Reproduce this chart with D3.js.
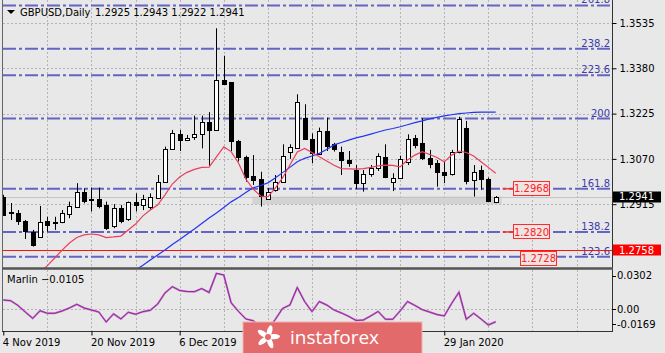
<!DOCTYPE html>
<html>
<head>
<meta charset="utf-8">
<script src="https://cdn.jsdelivr.net/npm/d3@7"></script>
<style>
body { margin: 0; background: #e8e8e8; }
svg { display: block; font-family: "DejaVu Sans", sans-serif; font-size: 10px; }
</style>
</head>
<body>
<svg width="665" height="353"></svg>
<script>
// GBPUSD daily candles, 4 Nov 2019 .. 7 Feb 2020
var opens = [1.2941,1.2887,1.2884,1.2858,1.2821,1.2803,1.2858,1.2853,1.2853,1.2884,
  1.2907,1.2956,1.2933,1.2932,1.2912,1.2838,1.2901,1.2864,1.2922,1.2912,
  1.2907,1.2937,1.2992,1.3104,1.3154,1.3134,1.3144,1.3154,1.3195,1.3169,
  1.3340,1.3332,1.3131,1.3076,1.3012,1.3000,1.2935,1.2964,1.2992,1.3093,
  1.3108,1.3211,1.3138,1.3089,1.3166,1.3120,1.3095,1.3066,1.3032,1.2987,
  1.3017,1.3038,1.3078,1.2992,1.3006,1.3061,1.3143,1.3123,1.3074,1.3055,
  1.3026,1.3017,1.3095,1.3177,1.2998,1.3032,1.3000,1.2925]
var highs = [1.2947,1.2919,1.2895,1.2861,1.2827,1.2909,1.2872,1.2872,1.2895,1.2924,
  1.2987,1.2970,1.2972,1.2972,1.2924,1.2915,1.2912,1.2924,1.2952,1.2947,
  1.2952,1.3015,1.3112,1.3169,1.3169,1.3152,1.3218,1.3218,1.3230,1.3517,
  1.3423,1.3332,1.3135,1.3081,1.3083,1.3026,1.2970,1.3015,1.3120,1.3120,
  1.3291,1.3257,1.3157,1.3177,1.3211,1.3125,1.3112,1.3097,1.3049,1.3032,
  1.3049,1.3089,1.3120,1.3021,1.3081,1.3154,1.3152,1.3209,1.3101,1.3066,
  1.3061,1.3101,1.3214,1.3200,1.3049,1.3047,1.3006,1.2943]
var lows = [1.2875,1.2861,1.2844,1.2796,1.2770,1.2800,1.2821,1.2827,1.2850,1.2867,
  1.2906,1.2918,1.2890,1.2901,1.2827,1.2833,1.2850,1.2858,1.2890,1.2895,
  1.2895,1.2935,1.2990,1.3101,1.3097,1.3131,1.3135,1.3106,1.3047,1.3166,
  1.3323,1.3097,1.3061,1.2992,1.2981,1.2907,1.2930,1.2958,1.2990,1.3070,
  1.3106,1.3135,1.3055,1.3083,1.3097,1.3095,1.3015,1.3043,1.2967,1.2958,
  1.3009,1.3029,1.3004,1.2960,1.3001,1.3049,1.3106,1.3066,1.3038,1.2975,
  1.2987,1.3013,1.3089,1.2983,1.2941,1.2964,1.2922,1.2922]
var closes = [1.2878,1.2884,1.2855,1.2825,1.2777,1.2854,1.2846,1.2848,1.2884,1.2910,
  1.2958,1.2926,1.2928,1.2907,1.2833,1.2901,1.2855,1.2921,1.2912,1.2933,
  1.2941,1.2992,1.3104,1.3158,1.3135,1.3141,1.3154,1.3195,1.3169,1.3340,
  1.3326,1.3129,1.3076,1.3006,1.3000,1.2941,1.2958,1.2992,1.3081,1.3110,
  1.3264,1.3138,1.3089,1.3166,1.3115,1.3104,1.3066,1.3057,1.2987,1.3017,
  1.3038,1.3080,1.3009,1.3006,1.3070,1.3138,1.3120,1.3070,1.3055,1.3024,
  1.3017,1.3093,1.3207,1.2995,1.3026,1.3001,1.2926,1.2941]

// moving averages (null = not drawn)
var redMA = [null,null,null,null,null,
  1.2680,1.2705,1.2731,1.2758,1.2782,1.2801,1.2810,1.2813,1.2810,1.2801,
  1.2803,1.2806,1.2827,1.2847,1.2875,1.2895,1.2912,1.2947,1.2984,1.3008,
  1.3024,1.3034,1.3041,1.3042,1.3077,1.3111,1.3095,1.3056,1.3001,1.2967,
  1.2943,1.2940,1.2970,1.3005,1.3049,1.3094,1.3106,1.3092,1.3077,1.3063,
  1.3048,1.3037,1.3036,1.3035,1.3037,1.3041,1.3046,1.3049,1.3048,1.3043,
  1.3066,1.3083,1.3095,1.3085,1.3075,1.3060,1.3083,1.3097,1.3092,1.3080,
  1.3060,1.3041,1.3021]
var blueMA = [null,null,null,null,null,null,null,null,null,null,
  null,null,null,null,null,null,null,null,
  1.2690,1.2706,1.2724,1.2741,1.2758,1.2777,1.2794,1.2812,1.2830,1.2849,
  1.2868,1.2885,1.2904,1.2923,1.2938,1.2955,1.2971,1.2979,1.2988,1.3005,
  1.3023,1.3041,1.3060,1.3072,1.3080,1.3089,1.3102,1.3118,1.3126,1.3134,
  1.3142,1.3148,1.3155,1.3162,1.3169,1.3174,1.3180,1.3187,1.3194,1.3200,
  1.3207,1.3212,1.3217,1.3221,1.3225,1.3227,1.3229,1.3230,1.3230,1.3230]

var marlin = [0.0078,0.0072,0.0032,-0.0023,-0.0076,-0.0012,-0.0034,-0.0034,-0.0014,0.0011,
  0.0042,0.0011,-0.0006,-0.0023,-0.0107,-0.0039,-0.0081,-0.0025,-0.0042,-0.0020,
  -0.0008,0.0044,0.0137,0.0190,0.0158,0.0149,0.0148,0.0174,0.0141,0.0302,
  0.0288,0.0055,-0.0018,-0.0081,-0.0096,-0.0150,-0.0169,-0.0086,0.0007,0.0036,
  0.0183,0.0065,-0.0020,0.0065,0.0036,-0.0006,-0.0031,-0.0060,-0.0094,-0.0090,
  -0.0056,-0.0018,-0.0084,-0.0084,-0.0014,0.0065,0.0032,-0.0003,-0.0023,-0.0044,
  -0.0056,0.0049,0.0143,-0.0084,-0.0034,-0.0081,-0.0132,-0.0105]

var fibNames = ["261.8","238.2","223.6","200","161.8","138.2","123.6"]
var fibPrices = [1.3595,1.3447,1.3356,1.3208,1.2968,1.2820,1.2735]

var priceTicks = [1.3535,1.3380,1.3225,1.3070,1.2915]
var indTicks = [0.0302,0,-0.0169]
var indTickLabels = ["0.0302","0.00","-0.0169"]
// date labels under the watermark (24 Dec, 13 Jan) are not visible in the chart
var dateBars = [0,12,24,60]
var dateLabels = ["4 Nov 2019","20 Nov 2019","6 Dec 2019","29 Jan 2020"]

var levelPrice = 1.2758          // red horizontal line
var zoneBars = [33.9, 67.8]      // grey support band
var zonePrices = [1.2941, 1.2915]
var tagPrices = [1.2968, 1.2820, 1.2728]
var tagBars = [69.3, 69.3, 70.3]

var svg = d3.select("svg")
var left = 3, right = 612, mainBottom = 268, indTop = 270, indBottom = 331

var x = d3.scaleLinear().domain([0, 67]).range([3.3, 495.7])
var y = d3.scaleLinear().domain([1.2915, 1.3535]).range([204.2, 23])
var yi = d3.scaleLinear().domain([-0.0169, 0.0302]).range([329.4, 273.3])

var defs = svg.append("defs")
defs.append("clipPath").attr("id", "clipMain").append("rect")
  .attr("x", left).attr("y", 0).attr("width", right - left).attr("height", mainBottom)
defs.append("clipPath").attr("id", "clipInd").append("rect")
  .attr("x", left).attr("y", indTop).attr("width", right - left).attr("height", indBottom - indTop)

svg.append("rect").attr("width", 665).attr("height", 353).attr("fill", "#e8e8e8")

var main = svg.append("g").attr("clip-path", "url(#clipMain)")
var ind = svg.append("g").attr("clip-path", "url(#clipInd)")

// grid
var gridBars = d3.range(6, 84, 6)
main.selectAll(".vg").data(gridBars).enter().append("line")
  .attr("x1", d => Math.round(x(d)) + 0.5).attr("x2", d => Math.round(x(d)) + 0.5)
  .attr("y1", 0).attr("y2", mainBottom)
  .attr("stroke", "#b4b4b4").attr("stroke-dasharray", "2,2")
main.selectAll(".hg").data(priceTicks).enter().append("line")
  .attr("x1", left).attr("x2", right)
  .attr("y1", d => Math.round(y(d)) + 0.5).attr("y2", d => Math.round(y(d)) + 0.5)
  .attr("stroke", "#b4b4b4").attr("stroke-dasharray", "2,2")
ind.selectAll(".vg").data(gridBars).enter().append("line")
  .attr("x1", d => Math.round(x(d)) + 0.5).attr("x2", d => Math.round(x(d)) + 0.5)
  .attr("y1", indTop).attr("y2", indBottom)
  .attr("stroke", "#b4b4b4").attr("stroke-dasharray", "2,2")
ind.append("line")
  .attr("x1", left).attr("x2", right)
  .attr("y1", Math.round(yi(0)) + 0.5).attr("y2", Math.round(yi(0)) + 0.5)
  .attr("stroke", "#b4b4b4").attr("stroke-dasharray", "2,2")

// support band and bid line
main.append("rect")
  .attr("x", x(zoneBars[0])).attr("width", x(zoneBars[1]) - x(zoneBars[0]))
  .attr("y", y(zonePrices[0])).attr("height", y(zonePrices[1]) - y(zonePrices[0]))
  .attr("fill", "#d3d3d3")
main.append("line")
  .attr("x1", left).attr("x2", right)
  .attr("y1", Math.round(y(closes[closes.length - 1])) + 0.5)
  .attr("y2", Math.round(y(closes[closes.length - 1])) + 0.5)
  .attr("stroke", "#c4c4c4")

// fibo lines
main.selectAll(".fib").data(fibPrices).enter().append("line")
  .attr("x1", left).attr("x2", right)
  .attr("y1", d => y(d)).attr("y2", d => y(d))
  .attr("stroke", "#6464c4").attr("stroke-width", 2)
  .attr("stroke-dasharray", "13,3,3,3")
main.selectAll(".fibt").data(fibPrices).enter().append("text")
  .attr("x", right - 2).attr("y", d => y(d) - 2)
  .attr("text-anchor", "end").attr("fill", "#3a3aa8")
  .text((d, i) => fibNames[i])

// red level
main.append("line")
  .attr("x1", left).attr("x2", right)
  .attr("y1", Math.round(y(levelPrice)) + 0.5).attr("y2", Math.round(y(levelPrice)) + 0.5)
  .attr("stroke", "#ff1010")

// candles
var idx = d3.range(opens.length)
var candles = main.selectAll(".c").data(idx).enter().append("g")
candles.append("line")
  .attr("x1", i => Math.round(x(i)) + 0.5).attr("x2", i => Math.round(x(i)) + 0.5)
  .attr("y1", i => y(highs[i])).attr("y2", i => y(lows[i]))
  .attr("stroke", "#000")
candles.append("rect")
  .attr("x", i => Math.round(x(i)) - 1.5)
  .attr("width", 4)
  .attr("y", i => Math.round(y(Math.max(opens[i], closes[i]))) + 0.5)
  .attr("height", i => Math.max(1, Math.round(Math.abs(y(opens[i]) - y(closes[i])))))
  .attr("fill", i => closes[i] >= opens[i] ? "#fff" : "#000")
  .attr("stroke", "#000")

// moving averages
var maLine = d3.line().defined(d => d != null).x((d, i) => x(i)).y(d => y(d))
main.append("path").datum(blueMA).attr("d", maLine)
  .attr("fill", "none").attr("stroke", "#2236f0").attr("stroke-width", 1.2)
main.append("path").datum(redMA).attr("d", maLine)
  .attr("fill", "none").attr("stroke", "#e8405c").attr("stroke-width", 1.2)

// price tag labels
tagPrices.forEach(function(p, i) {
  var bx = x(tagBars[i]), by = y(p)
  if (i < 2) {
    main.append("line").attr("x1", bx - 10).attr("x2", bx).attr("y1", by).attr("y2", by)
      .attr("stroke", "#ff3030").attr("stroke-width", 1.5)
  }
  main.append("rect").attr("x", Math.round(bx) + 0.5).attr("y", Math.round(by) - 7.5)
    .attr("width", 36).attr("height", 14)
    .attr("fill", "#efe4e4").attr("stroke", "#ff2a2a")
  main.append("text").attr("x", Math.round(bx) + 18.5).attr("y", by + 3.6)
    .attr("text-anchor", "middle").attr("fill", "#ff2020")
    .text(d3.format(".4f")(p))
})

// marlin
var indLine = d3.line().x((d, i) => x(i)).y(d => yi(d))
ind.append("path").datum(marlin).attr("d", indLine)
  .attr("fill", "none").attr("stroke", "#c27ac8").attr("stroke-width", 2)
ind.append("path").datum(marlin).attr("d", indLine)
  .attr("fill", "none").attr("stroke", "#8e1e96").attr("stroke-width", 0.9)

// frames
svg.append("line").attr("x1", 2.5).attr("x2", 2.5).attr("y1", 0).attr("y2", indBottom)
  .attr("stroke", "#666")
svg.append("line").attr("x1", right + 0.5).attr("x2", right + 0.5).attr("y1", 0).attr("y2", indBottom)
  .attr("stroke", "#333")
svg.append("line").attr("x1", 2).attr("x2", right + 1).attr("y1", 268.5).attr("y2", 268.5)
  .attr("stroke", "#555").attr("stroke-width", 2.5)
svg.append("line").attr("x1", 2).attr("x2", right + 1).attr("y1", indBottom + 0.5).attr("y2", indBottom + 0.5)
  .attr("stroke", "#333")

// price axis
var pAxis = svg.append("g").attr("transform", "translate(" + (right + 0.5) + ",0)")
  .call(d3.axisRight(y).tickValues(priceTicks).tickFormat(d3.format(".4f")).tickSize(4).tickPadding(3))
pAxis.select(".domain").remove()
pAxis.attr("font-family", "DejaVu Sans").attr("font-size", 10)
pAxis.selectAll("text").attr("fill", "#000")

// current price & level boxes on axis
function axisBox(p, bg) {
  var g = svg.append("g")
  g.append("rect").attr("x", right + 1).attr("y", Math.round(y(p)) - 5.5)
    .attr("width", 48).attr("height", 11).attr("fill", bg)
  g.append("text").attr("x", right + 7).attr("y", y(p) + 3.8)
    .attr("fill", "#fff").text(d3.format(".4f")(p))
}
axisBox(closes[closes.length - 1], "#000")
axisBox(levelPrice, "#ff0000")

// indicator axis
var yClamp = v => Math.max(275.7, Math.min(324, yi(v)))
var iAxis = svg.append("g")
iAxis.selectAll("line").data(indTicks).enter().append("line")
  .attr("x1", right).attr("x2", right + 4)
  .attr("y1", d => Math.round(yClamp(d)) + 0.5).attr("y2", d => Math.round(yClamp(d)) + 0.5)
  .attr("stroke", "#000")
iAxis.selectAll("text").data(indTicks).enter().append("text")
  .attr("x", right + 5).attr("y", d => yClamp(d) + 3.6)
  .text((d, i) => indTickLabels[i])

// date axis
var dAxis = svg.append("g").attr("transform", "translate(0," + (indBottom + 0.5) + ")")
  .call(d3.axisBottom(x).tickValues(dateBars).tickFormat((d, i) => dateLabels[i]).tickSize(4).tickPadding(3))
dAxis.select(".domain").remove()
dAxis.attr("font-family", "DejaVu Sans").attr("font-size", 10)
dAxis.selectAll("text").attr("text-anchor", "start").attr("x", -1).attr("fill", "#000")

// header
svg.append("path").attr("d", "M7,10L15,10L11,14Z").attr("fill", "#000")
svg.append("text").attr("x", 20).attr("y", 16).text("GBPUSD,Daily")
svg.append("text").attr("x", 95).attr("y", 16)
  .text([opens, highs, lows, closes].map(a => d3.format(".4f")(a[a.length - 1])).join(" "))
svg.append("text").attr("x", 7).attr("y", 283)
  .text("Marlin " + d3.format(".4f")(marlin[marlin.length - 1]))

// watermark
var logo = svg.append("g")
logo.append("rect").attr("x", 243).attr("y", 322).attr("width", 179).attr("height", 34)
  .attr("fill", "#e36a6a").attr("stroke", "#f2b0b0").attr("stroke-width", 1)
var star = logo.append("g").attr("transform", "translate(268,337)")
d3.range(5).forEach(function(k) {
  star.append("ellipse").attr("cx", 0).attr("cy", -6).attr("rx", 2.6).attr("ry", 6)
    .attr("fill", "#fff").attr("transform", "rotate(" + (k * 72 + 15) + ")")
})
star.append("circle").attr("r", 3).attr("fill", "#e36a6a")
logo.append("text").attr("x", 290).attr("y", 344)
  .attr("font-family", "Open Sans").attr("font-size", 19).attr("fill", "#fff")
  .text("instaforex")
</script>
</body>
</html>
